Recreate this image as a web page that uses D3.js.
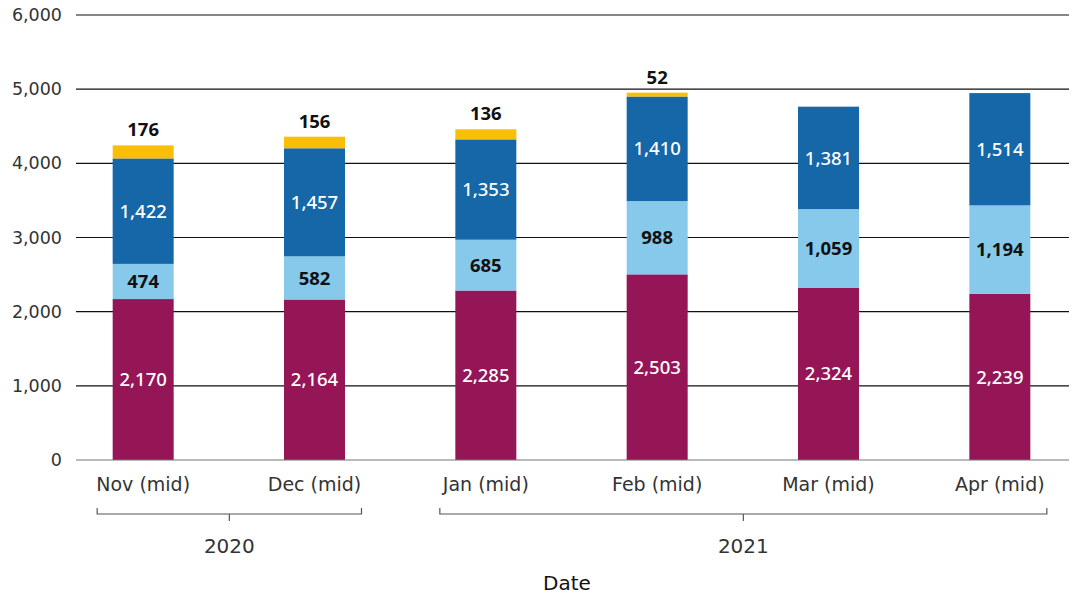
<!DOCTYPE html>
<html>
<head>
<meta charset="utf-8">
<script src="https://cdn.jsdelivr.net/npm/d3@7"></script>
<style>
  body { margin: 0; background: #fff; }
  svg { display: block; }
</style>
</head>
<body>
<div class="canvas"></div>
<script>
// chart data
const months = ['Nov (mid)', 'Dec (mid)', 'Jan (mid)', 'Feb (mid)', 'Mar (mid)', 'Apr (mid)'];
const maroonVals = [2170, 2164, 2285, 2503, 2324, 2239];
const lightBlueVals = [474, 582, 685, 988, 1059, 1194];
const darkBlueVals = [1422, 1457, 1353, 1410, 1381, 1514];
const yellowVals = [176, 156, 136, 52, 0, 0];
const yTicks = [0, 1000, 2000, 3000, 4000, 5000, 6000];
const years = [
  { label: '2020', from: 'Nov (mid)', to: 'Dec (mid)' },
  { label: '2021', from: 'Jan (mid)', to: 'Apr (mid)' },
];

const seriesNames = ['maroon', 'lightBlue', 'darkBlue', 'yellow'];
const colors = {
  maroon: '#951657',
  lightBlue: '#86c9ea',
  darkBlue: '#1667a8',
  yellow: '#f8bf06',
};
const labelColors = {
  maroon: '#fff',
  lightBlue: '#111',
  darkBlue: '#fff',
  yellow: '#111',
};
const labelWeights = {
  maroon: 500,
  lightBlue: 700,
  darkBlue: 500,
  yellow: 700,
};

const rows = months.map((m, i) => ({
  month: m,
  maroon: maroonVals[i],
  lightBlue: lightBlueVals[i],
  darkBlue: darkBlueVals[i],
  yellow: yellowVals[i],
}));

const width = 1077;
const height = 597;

const svg = d3.select('.canvas')
  .append('svg')
  .attr('width', width)
  .attr('height', height);

// scales
const x = d3.scaleBand()
  .domain(months)
  .range([57.5, 1085.5])
  .paddingInner(0.644)
  .paddingOuter(0.322);

const y = d3.scaleLinear()
  .domain([0, 6000])
  .range([460, 15]);

const gridLeft = 76;
const gridRight = 1069;

// gridlines
svg.append('g')
  .selectAll('line')
  .data(yTicks.filter(d => d > 0))
  .enter()
  .append('line')
  .attr('x1', gridLeft)
  .attr('x2', gridRight)
  .attr('y1', d => y(d))
  .attr('y2', d => y(d))
  .attr('stroke', '#111')
  .attr('stroke-width', 1.2);

// y axis labels
const yAxis = d3.axisLeft(y)
  .tickValues(yTicks)
  .tickSize(0)
  .tickPadding(0)
  .tickFormat(d3.format(','));

const yAxisGroup = svg.append('g')
  .attr('transform', `translate(62, 0)`)
  .call(yAxis);
yAxisGroup.select('.domain').remove();
yAxisGroup.selectAll('text')
  .attr('font-family', 'DejaVu Sans')
  .attr('font-size', 17.5)
  .attr('fill', '#333');

// stacked bars
const stack = d3.stack().keys(seriesNames);
const stacked = stack(rows);

const layers = svg.append('g')
  .selectAll('g')
  .data(stacked)
  .enter()
  .append('g')
  .attr('fill', d => colors[d.key]);

layers.selectAll('rect')
  .data(d => d)
  .enter()
  .append('rect')
  .attr('x', d => x(d.data.month))
  .attr('width', x.bandwidth())
  .attr('y', d => y(d[1]))
  .attr('height', d => y(d[0]) - y(d[1]));

// zero line
svg.append('line')
  .attr('x1', gridLeft)
  .attr('x2', gridRight)
  .attr('y1', y(0))
  .attr('y2', y(0))
  .attr('stroke', '#777')
  .attr('stroke-width', 1.2);

// value labels
const fmt = d3.format(',');
stacked.forEach(layer => {
  const key = layer.key;
  svg.append('g')
    .selectAll('text')
    .data(layer.filter(d => d[1] - d[0] > 0))
    .enter()
    .append('text')
    .attr('x', d => x(d.data.month) + x.bandwidth() / 2)
    .attr('y', d => key === 'yellow' ? y(d[1]) - 9 : (y(d[0]) + y(d[1])) / 2)
    .attr('dy', key === 'yellow' ? 0 : '0.36em')
    .attr('text-anchor', 'middle')
    .attr('font-family', 'Noto Sans')
    .attr('font-size', 18.5)
    .attr('font-weight', labelWeights[key])
    .attr('fill', labelColors[key])
    .text(d => fmt(d.data[key]));
});

// x axis labels
const xAxis = d3.axisBottom(x).tickSize(0).tickPadding(0);
const xAxisGroup = svg.append('g')
  .attr('transform', `translate(0, 477)`)
  .call(xAxis);
xAxisGroup.select('.domain').remove();
xAxisGroup.selectAll('text')
  .attr('font-family', 'DejaVu Sans')
  .attr('font-size', 19)
  .attr('fill', '#333');

// year brackets
const bracketY = 514;
const brackets = svg.append('g')
  .selectAll('g')
  .data(years)
  .enter()
  .append('g');

const bx1 = d => x(d.from) + x.bandwidth() / 2 - 46;
const bx2 = d => x(d.to) + x.bandwidth() / 2 + 47;

brackets.append('path')
  .attr('d', d => `M${bx1(d)},${bracketY - 6}V${bracketY}H${bx2(d)}V${bracketY - 6}`)
  .attr('fill', 'none')
  .attr('stroke', '#555')
  .attr('stroke-width', 1.2);

brackets.append('line')
  .attr('x1', d => (bx1(d) + bx2(d)) / 2)
  .attr('x2', d => (bx1(d) + bx2(d)) / 2)
  .attr('y1', bracketY)
  .attr('y2', bracketY + 7)
  .attr('stroke', '#555')
  .attr('stroke-width', 1.2);

brackets.append('text')
  .attr('x', d => (bx1(d) + bx2(d)) / 2)
  .attr('y', 553)
  .attr('text-anchor', 'middle')
  .attr('font-family', 'DejaVu Sans')
  .attr('font-size', 20)
  .attr('fill', '#333')
  .text(d => d.label);

// axis title
svg.append('text')
  .attr('x', 567)
  .attr('y', 590)
  .attr('text-anchor', 'middle')
  .attr('font-family', 'DejaVu Sans')
  .attr('font-size', 20)
  .attr('fill', '#111')
  .text('Date');
</script>
</body>
</html>
